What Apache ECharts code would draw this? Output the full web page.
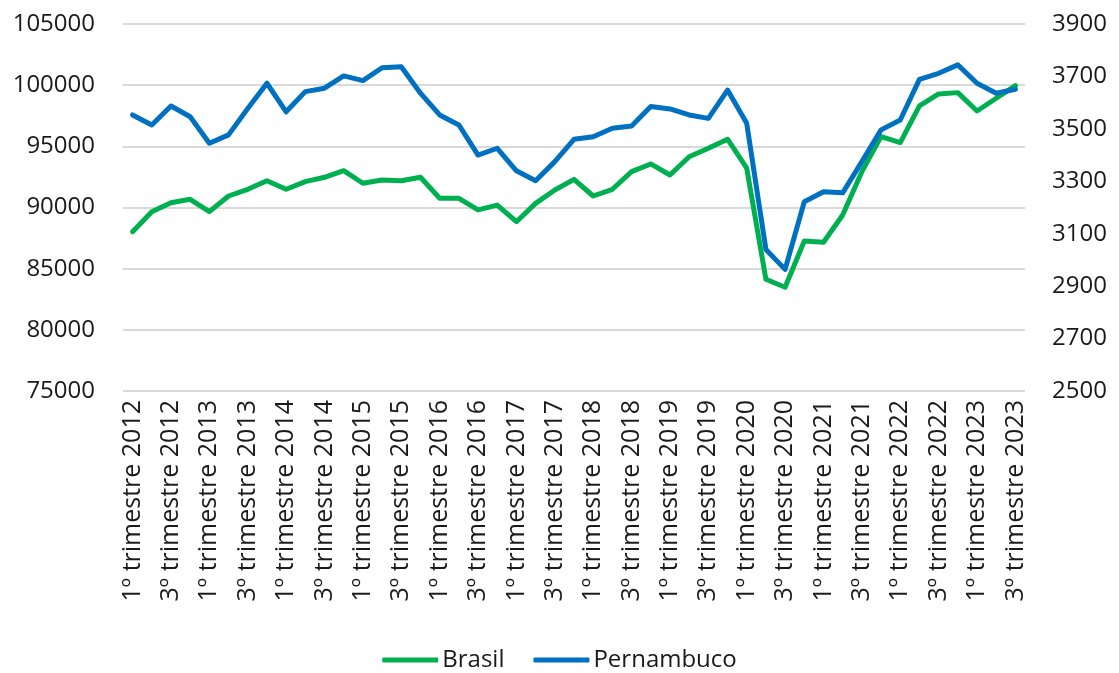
<!DOCTYPE html>
<html>
<head>
<meta charset="utf-8">
<script src="https://cdn.jsdelivr.net/npm/echarts@6/dist/echarts.min.js"></script>
<style>html,body{margin:0;padding:0;background:#fff;}#c{width:1119px;height:673px;}</style>
</head>
<body>
<div id="c"></div>
<script>
const years = [2012,2013,2014,2015,2016,2017,2018,2019,2020,2021,2022,2023];
const categories = [];
years.forEach(y => { for (let q = 1; q <= 4; q++) { if (y === 2023 && q > 3) break; categories.push(q + 'º trimestre ' + y); } });

const brasil = [
  88020, 89660, 90390, 90670, 89660, 90940, 91490, 92190, 91490, 92110, 92470, 93010,
  91980, 92250, 92190, 92470, 90760, 90750, 89800, 90200, 88840, 90340, 91430, 92300,
  90940, 91490, 92930, 93560, 92660, 94150, 94840, 95580, 93210, 84130, 83480, 87260,
  87160, 89390, 92930, 95790, 95300, 98300, 99280, 99390, 97890, 98930, 99960
];
const pernambuco = [
  3553, 3515, 3587, 3546, 3445, 3477, 3578, 3674, 3565, 3642, 3655, 3702,
  3684, 3733, 3737, 3636, 3553, 3515, 3400, 3426, 3340, 3302, 3375, 3460,
  3470, 3502, 3511, 3585, 3576, 3553, 3540, 3648, 3521, 3040, 2964, 3222,
  3260, 3256, 3375, 3496, 3534, 3689, 3712, 3744, 3674, 3636, 3651
];
const leftAxis = {min: 75000, max: 105000, interval: 5000};
const rightAxis = {min: 2500, max: 3900, interval: 200};

const font = '"Open Sans", "Noto Sans", sans-serif';
const chart = echarts.init(document.getElementById('c'), null, {renderer: 'canvas'});
chart.setOption({
  animation: false,
  textStyle: {fontFamily: font},
  grid: {left: 123, right: 94, top: 24, bottom: 282},
  legend: {
    top: 643, left: 'center', icon: 'roundRect', itemWidth: 56, itemHeight: 5, itemGap: 29,
    textStyle: {fontSize: 24, color: '#1a1a1a', fontFamily: font, padding: [0, 0, 0, -1]},
    data: ['Brasil', 'Pernambuco']
  },
  xAxis: {
    type: 'category', data: categories, boundaryGap: true,
    axisLine: {show: false}, axisTick: {show: false},
    axisLabel: {interval: 1, rotate: 90, fontSize: 25, color: '#1a1a1a', margin: 9, fontFamily: font}
  },
  yAxis: [
    {type: 'value', min: leftAxis.min, max: leftAxis.max, interval: leftAxis.interval,
     axisLine: {show: false}, axisTick: {show: false},
     axisLabel: {fontSize: 24, color: '#1a1a1a', margin: 28, fontFamily: font, formatter: v => String(v)},
     splitLine: {lineStyle: {color: '#d9d9d9', width: 2}}},
    {type: 'value', min: rightAxis.min, max: rightAxis.max, interval: rightAxis.interval,
     axisLine: {show: false}, axisTick: {show: false},
     axisLabel: {fontSize: 24, color: '#1a1a1a', margin: 27, fontFamily: font, formatter: v => String(v)},
     splitLine: {show: false}}
  ],
  series: [
    {name: 'Brasil', type: 'line', yAxisIndex: 0, data: brasil, symbol: 'none',
     lineStyle: {color: '#00b050', width: 5, join: 'round', cap: 'round'}, itemStyle: {color: '#00b050'}},
    {name: 'Pernambuco', type: 'line', yAxisIndex: 1, data: pernambuco, symbol: 'none',
     lineStyle: {color: '#0070c0', width: 5, join: 'round', cap: 'round'}, itemStyle: {color: '#0070c0'}}
  ]
});
</script>
</body>
</html>
